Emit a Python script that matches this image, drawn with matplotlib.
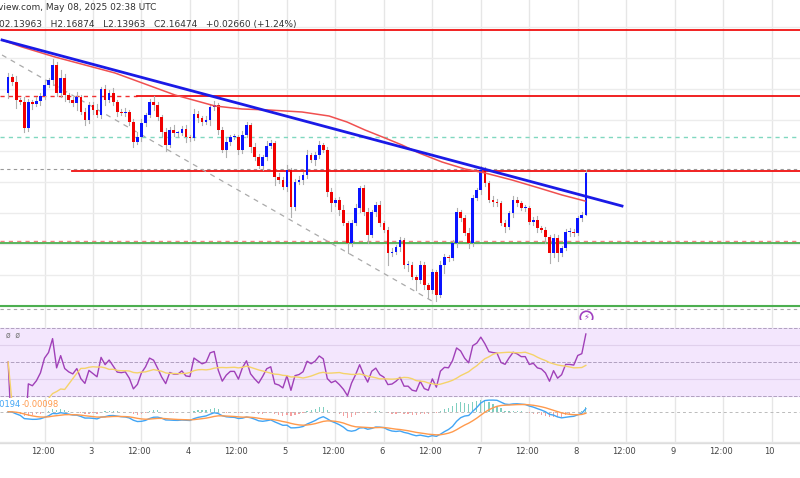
import numpy as np
import pandas as pd
import matplotlib
matplotlib.use("Agg")
import matplotlib.pyplot as plt
from matplotlib.patches import Rectangle

# ---- data (closes, in screen pixel rows, converted to price) ----
first_open_px = 93
close_px = [77, 82, 100, 102, 128, 102, 104, 101, 96, 85, 80, 65, 93, 78, 95, 100, 103, 97, 112, 120,
            105, 110, 115, 89, 100, 93, 102, 112, 113, 112, 122, 142, 137, 123, 115, 102, 105, 117, 132, 145,
            130, 133, 133, 129, 137, 138, 114, 118, 122, 120, 107, 105, 130, 150, 142, 137, 137, 150, 135, 125,
            147, 157, 166, 157, 146, 143, 177, 180, 187, 170, 207, 182, 180, 175, 155, 160, 155, 145, 150, 192,
            203, 200, 210, 223, 243, 223, 208, 188, 212, 235, 212, 205, 223, 230, 253, 252, 247, 240, 265, 265,
            277, 280, 265, 285, 290, 272, 295, 265, 257, 258, 243, 212, 218, 233, 243, 198, 190, 170, 183, 200,
            202, 203, 223, 227, 213, 200, 203, 208, 208, 222, 220, 228, 230, 237, 253, 238, 253, 248, 232, 232,
            233, 218, 215, 173]
wick_up = [4, 3, 6, 2, 5, 3, 2, 4, 3, 5, 2, 6, 3, 8, 4, 2, 3, 5, 2, 4, 3, 3, 6, 2, 4, 3, 5, 2, 3, 4,
           2, 3, 5, 4, 2, 3, 6, 3, 2, 4, 3, 5, 2, 3, 4, 2, 5, 3, 2, 4, 3, 4, 2, 3, 4, 2, 3, 2, 4, 3,
           2, 4, 3, 2, 5, 3, 2, 4, 3, 5, 2, 3, 4, 3, 5, 2, 3, 4, 2, 3, 4, 2, 3, 5, 2, 3, 4, 2, 3, 4,
           2, 3, 4, 2, 3, 4, 2, 3, 2, 4, 3, 2, 4, 3, 2, 3, 2, 4, 3, 2, 3, 4, 2, 3, 5, 3, 2, 4, 3, 2,
           4, 3, 2, 3, 2, 4, 3, 2, 3, 2, 3, 4, 2, 3, 2, 4, 3, 2, 3, 4, 3, 2, 3, 3]
wick_dn = [5, 3, 8, 2, 4, 3, 5, 2, 4, 3, 2, 5, 3, 4, 6, 2, 3, 7, 2, 5, 3, 4, 2, 3, 5, 2, 3, 4, 2, 3,
           3, 5, 2, 4, 3, 2, 5, 3, 4, 6, 2, 3, 4, 2, 5, 3, 2, 4, 3, 2, 5, 3, 4, 2, 7, 3, 2, 4, 3, 2,
           5, 3, 2, 4, 3, 2, 8, 3, 2, 4, 10, 3, 2, 4, 3, 2, 5, 3, 2, 4, 8, 3, 5, 2, 10, 3, 2, 4, 3, 8,
           2, 4, 3, 2, 12, 3, 2, 4, 3, 6, 2, 10, 3, 4, 8, 3, 6, 2, 8, 3, 2, 4, 3, 2, 5, 3, 2, 4, 3, 2,
           4, 3, 2, 5, 2, 4, 3, 2, 3, 2, 3, 4, 2, 6, 10, 4, 8, 3, 2, 4, 3, 2, 3, 0]
ma_x_px = [0, 20, 53, 113, 173, 213, 240, 267, 300, 327, 345, 363, 383, 400, 417, 440, 463, 483, 510, 537, 560, 583]
ma_y_px = [40, 47, 57, 73, 95, 106, 109, 110, 112, 116, 122, 130, 138, 145, 153, 162, 169, 173, 180, 188, 195, 201]
day_ticks = ["12:00", "3", "12:00", "4", "12:00", "5", "12:00", "6", "12:00", "7",
             "12:00", "8", "12:00", "9", "12:00", "10"]

def px2price(y):
    return 2.16474 + (174 - np.asarray(y, float)) * 0.000644

def px2hour(x):
    return (np.asarray(x, float) + 6) / 4.04

closes = px2price(close_px)
opens = np.concatenate([[px2price(first_open_px)], closes[:-1]])
up = np.asarray(wick_up) * 0.000644
dn = np.asarray(wick_dn) * 0.000644
highs = np.maximum(opens, closes) + up
lows = np.minimum(opens, closes) - dn
hours = np.arange(len(closes)) + 3.0

W, H = 800, 478
fig = plt.figure(figsize=(8, 4.78), dpi=100)
def ax_at(top, bottom):
    return fig.add_axes([0, 1 - bottom / H, 1, (bottom - top) / H])

xl = (px2hour(0) - 0.5, px2hour(800) - 0.5)
ax = ax_at(0, 320)
rax = ax_at(320, 398)
max_ = ax_at(398, 443)
for a in (ax, rax, max_):
    a.set_xlim(*xl)
    for s in a.spines.values():
        s.set_visible(False)
    a.tick_params(length=0, labelleft=False, labelbottom=False)
    a.set_yticks([])
    for k in range(len(day_ticks)):
        a.axvline(12 + 12 * k, color="#e6e6e6", lw=1, zorder=0)

ax.set_ylim(px2price(320), px2price(0))
for gy in [27, 58, 89, 120, 151, 182, 213, 244, 275, 306]:
    ax.axhline(px2price(gy), color="#ececec", lw=1, zorder=0)

# levels
ax.axhline(px2price(30), color="#f01010", lw=1.3, zorder=1)
ax.plot([xl[0], px2hour(135)], px2price([96, 96]), color="#f03030", lw=1, ls=(0, (3, 3)))
ax.plot([px2hour(135), xl[1]], px2price([96, 96]), color="#f01010", lw=1.3)
ax.axhline(px2price(169), color="#999999", lw=0.8, ls=(0, (3, 3)))
ax.plot([px2hour(70), xl[1]], px2price([171, 171]), color="#f01010", lw=1.3)
ax.axhline(px2price(137), color="#80d8c0", lw=1, ls=(0, (3, 3)))
ax.axhline(px2price(241), color="#f08080", lw=1, ls=(0, (3, 3)))
ax.axhline(px2price(243), color="#4caf50", lw=1.3)
ax.axhline(px2price(306), color="#4caf50", lw=1.5)
ax.axhline(px2price(309), color="#aaaaaa", lw=0.8, ls=(0, (3, 3)))
ax.plot(px2hour([0, 430]), px2price([55, 301]), color="#aaaaaa", lw=0.9, ls=(0, (4, 4)))

# candles
for h, o, c, hi, lo in zip(hours, opens, closes, highs, lows):
    col = "#0a14ff" if c >= o else "#f00000"
    ax.plot([h, h], [lo, hi], color="#b0b0b0", lw=0.8, zorder=2)
    b = min(o, c)
    ht = max(abs(c - o), 0.0004)
    ax.add_patch(Rectangle((h - 0.33, b), 0.66, ht, color=col, zorder=3, lw=0))

ax.plot(px2hour(ma_x_px), px2price(ma_y_px), color="#f05050", lw=1.1, zorder=4)
ax.plot(px2hour([0, 620]), px2price([40, 206]), color="#1a1ae6", lw=2, zorder=5)
ax.plot(hours[-1], px2price(317), "o", ms=9, mfc="white", mec="#a040c0", mew=1.2, zorder=6)
ax.text(hours[-1], px2price(317), "⚡", color="#a040c0", fontsize=6, ha="center", va="center", zorder=7)

fig.text(-0.003, 1 - 8 / H, "view.com, May 08, 2025 02:38 UTC", fontsize=6.5, color="#333333", va="center")
fig.text(-0.001, 1 - 24 / H, "02.13963   H2.16874   L2.13963   C2.16474   +0.02660 (+1.24%)",
         fontsize=6.5, color="#333333", va="center")

# RSI
s = pd.Series(closes)
d = s.diff().fillna(0)
gain = d.clip(lower=0).ewm(alpha=1 / 14, adjust=True).mean()
loss = (-d.clip(upper=0)).ewm(alpha=1 / 14, adjust=True).mean()
rsi = 100 - 100 / (1 + gain / loss.replace(0, 1e-9))
rsi.iloc[0] = 50
rsi_ma = rsi.rolling(14, min_periods=1).mean()
rax.set_ylim(30 - 40 * 2 / 68, 70 + 40 * 8 / 68)
rax.axhspan(30, 70, color="#f3e6fd", zorder=0)
for v in (70, 50, 30):
    rax.axhline(v, color="#b0a0c0", lw=0.7, ls="--")
for v in (60, 40):
    rax.axhline(v, color="#e0d0ec", lw=0.8)
rax.plot(hours, rsi, color="#a040b8", lw=1)
rax.plot(hours, rsi_ma, color="#f5d36a", lw=1)
rax.text(px2hour(4), 66, "ø  ø", fontsize=5.5, color="#777777", va="center")

# MACD
e12 = s.ewm(span=12, adjust=False).mean()
e26 = s.ewm(span=26, adjust=False).mean()
macd = e12 - e26
sig = macd.ewm(span=9, adjust=False).mean()
hist = macd - sig
lim = max(abs(macd).max(), abs(sig).max())
max_.set_ylim(-lim * 1.25, lim * 0.55)
max_.axhline(0, color="#bbbbbb", lw=0.7, ls=(0, (3, 3)))
max_.bar(hours, hist, width=0.3, color=np.where(hist >= 0, "#7fcfc0", "#f5a0a0"))
max_.plot(hours, macd, color="#42a5f5", lw=1)
max_.plot(hours, sig, color="#ff9a4d", lw=1)
max_.axhline(-lim * 1.2, color="#e6e6e6", lw=1)
max_.text(px2hour(-8), lim * 0.28, "00194", fontsize=6, color="#42a5f5", va="center")
max_.text(px2hour(20), lim * 0.28, "-0.00098", fontsize=6, color="#ff9a4d", va="center")
fig.add_artist(plt.Line2D([0, 1], [1 - 443 / H] * 2, color="#dddddd", lw=1))
for k, lab in enumerate(day_ticks):
    fig.text((-6 + (12 + 12 * k) * 4.04) / W, 1 - 451 / H, lab, fontsize=6, color="#444444",
             ha="center", va="center")

fig.savefig("out.png", dpi=100)
